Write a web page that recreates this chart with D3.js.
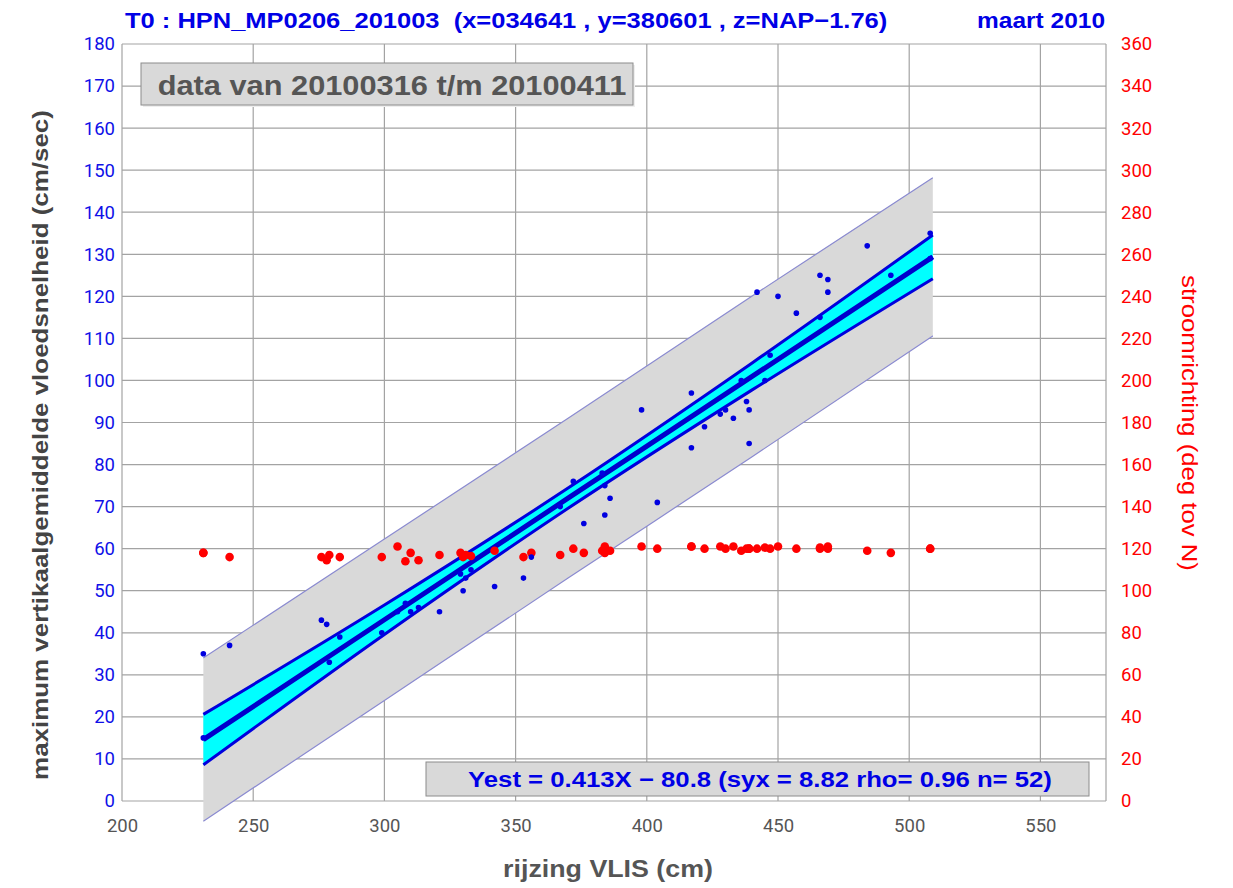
<!DOCTYPE html>
<html><head><meta charset="utf-8">
<script src="https://cdn.jsdelivr.net/npm/d3@7"></script>
<style>body{margin:0;background:#fff}svg{display:block}</style>
</head><body>
<svg id="c" width="1233" height="888"></svg>
<script>
// ---- data ----
const rise = [231,231,241,276,278,279,283,299,305,308,310,313,321,329,330,331,333,342,353,356,367,372,376,383,384,384,386,398,404,417,417,422,428,430,433,436,438,439,439,442,445,447,450,457,466,466,469,469,484,493,508,508];
const speed = [35,15,37,43,42,33,39,40,45,47,45,46,45,54,50,53,55,51,53,58,70,76,66,78,75,68,72,93,71,97,84,89,92,93,91,100,95,93,85,121,100,106,120,116,115,125,124,121,132,125,135,129];
const direction = [118,118,116,116,114.5,117,116,116,121,114,118,114.5,117,118,116,117,116.5,119,116,118,117,120,118,119,121,118,119,121,120,121,121,120,121,120,121,119,120,120,120,120,120.5,120,121,120,120,120.5,121,120,119,118,120,120];
const bandX = [231,300,370,440,509];
const fitLine = [14.6,43.1,72.0,100.9,129.4];
const confUpper = [20.6,46.6,74.4,104.1,134.6];
const confLower = [8.6,39.6,69.6,97.7,124.2];
const predUpper = [34.0,62.3,91.0,120.0,148.2];
const predLower = [-4.8,23.9,53.0,81.8,110.6];
const xTicks = [200,250,300,350,400,450,500,550];
const yTicks = d3.range(0,181,10);
const y2Ticks = d3.range(0,361,20);
const titleText = "T0 : HPN_MP0206_201003  (x=034641 , y=380601 , z=NAP\u22121.76)";
const monthText = "maart 2010";
const periodText = "data van 20100316 t/m 20100411";
const eqText = "Yest = 0.413X \u2212 80.8 (syx = 8.82 rho= 0.96 n= 52)";
const xLabel = "rijzing VLIS (cm)";
const yLabel = "maximum vertikaalgemiddelde vloedsnelheid (cm/sec)";
const y2Label = "stroomrichting (deg tov N)";

// ---- layout ----
const L=122, R=1106, T=44, B=801;
const svg = d3.select("#c");
const x = d3.scaleLinear().domain([200,575]).range([L,R]);
const y = d3.scaleLinear().domain([0,180]).range([B,T]);
const y2 = d3.scaleLinear().domain([0,360]).range([B,T]);
const grid = "#a3a3a3";
const FONT = "'Liberation Sans', Arial, sans-serif";

// condensed text: font size sets height, horizontal scale sets width
function ctext(str, px, py, w, fs, opts){
  opts = opts||{};
  const g = svg.append("g");
  const t = g.append("text").attr("font-family",FONT).attr("font-size",fs)
    .attr("font-weight",opts.weight||"bold").attr("fill",opts.fill||"#000")
    .attr("text-anchor",opts.anchor||"start").attr("xml:space","preserve").text(str);
  const sx = w / t.node().getComputedTextLength();
  g.attr("transform",`translate(${px},${py}) rotate(${opts.rot||0}) scale(${sx},1)`);
  return t;
}

// gridlines
const g = svg.append("g");
g.selectAll(".vg").data(xTicks).join("line")
  .attr("x1",d=>x(d)).attr("x2",d=>x(d)).attr("y1",T).attr("y2",B)
  .attr("stroke",grid).attr("stroke-width",1.2);
g.selectAll(".hg").data(yTicks).join("line")
  .attr("x1",L).attr("x2",R).attr("y1",d=>y(d)).attr("y2",d=>y(d))
  .attr("stroke",grid).attr("stroke-width",1.2);
g.append("line").attr("x1",R).attr("x2",R).attr("y1",T).attr("y2",B).attr("stroke",grid).attr("stroke-width",1.2);

// axes labels via d3 axes
const axL = svg.append("g").attr("transform",`translate(${L},0)`)
  .call(d3.axisLeft(y).tickValues(yTicks).tickSize(0).tickPadding(7));
axL.select(".domain").remove();
axL.selectAll("text").attr("fill","#1010e8").attr("font-family","Roboto, 'Liberation Sans', sans-serif").attr("font-size",18.5);
const axR = svg.append("g").attr("transform",`translate(${R},0)`)
  .call(d3.axisRight(y2).tickValues(y2Ticks).tickSize(0).tickPadding(15));
axR.select(".domain").remove();
axR.selectAll("text").attr("fill","#ff0000").attr("font-family","Roboto, 'Liberation Sans', sans-serif").attr("font-size",18.5);
const axB = svg.append("g").attr("transform",`translate(0,${B})`)
  .call(d3.axisBottom(x).tickValues(xTicks).tickSize(0).tickPadding(18));
axB.select(".domain").remove();
axB.selectAll("text").attr("fill","#555").attr("font-family","Roboto, 'Liberation Sans', sans-serif").attr("font-size",18.5);

// bands
const bd = bandX.map((v,i)=>({x:v,f:fitLine[i],cu:confUpper[i],cl:confLower[i],pu:predUpper[i],pl:predLower[i]}));
const curve = d3.curveMonotoneX;
svg.append("path").datum(bd)
  .attr("d", d3.area().x(d=>x(d.x)).y0(d=>y(d.pl)).y1(d=>y(d.pu)).curve(curve))
  .attr("fill","#d9d9d9");
["pu","pl"].forEach(k=>svg.append("path").datum(bd)
  .attr("d", d3.line().x(d=>x(d.x)).y(d=>y(d[k])).curve(curve))
  .attr("fill","none").attr("stroke","#8a8ad0").attr("stroke-width",1.2));
svg.append("path").datum(bd)
  .attr("d", d3.area().x(d=>x(d.x)).y0(d=>y(d.cl)).y1(d=>y(d.cu)).curve(curve))
  .attr("fill","#00ffff");
["cu","cl"].forEach(k=>svg.append("path").datum(bd)
  .attr("d", d3.line().x(d=>x(d.x)).y(d=>y(d[k])).curve(curve))
  .attr("fill","none").attr("stroke","#0000dd").attr("stroke-width",3));
svg.append("path").datum(bd)
  .attr("d", d3.line().x(d=>x(d.x)).y(d=>y(d.f)).curve(curve))
  .attr("fill","none").attr("stroke","#0000cc").attr("stroke-width",5);

// points
const pts = rise.map((r,i)=>({r,s:speed[i],d:direction[i]}));
svg.append("g").selectAll("circle").data(pts).join("circle")
  .attr("cx",d=>x(d.r)).attr("cy",d=>y2(d.d)).attr("r",4.3).attr("fill","#ff0000");
svg.append("g").selectAll("circle").data(pts).join("circle")
  .attr("cx",d=>x(d.r)).attr("cy",d=>y(d.s)).attr("r",2.8).attr("fill","#0000e0");

// title
ctext(titleText, 125, 28, 763, 22, {fill:"#0000e6"});
ctext(monthText, 1105, 28, 128, 22, {fill:"#0000e6", anchor:"end"});

// period box
svg.append("rect").attr("x",143).attr("y",65).attr("width",492).attr("height",42).attr("fill","#eeeeee");
svg.append("rect").attr("x",141).attr("y",63).attr("width",492).attr("height",42).attr("fill","#d9d9d9").attr("stroke","#8c8c8c").attr("stroke-width",1);
ctext(periodText, 392, 95, 469, 28, {fill:"#555", anchor:"middle"});

// equation box
svg.append("rect").attr("x",426).attr("y",762).attr("width",663).attr("height",34).attr("fill","#d9d9d9").attr("stroke","#8c8c8c").attr("stroke-width",1);
ctext(eqText, 760, 787, 584, 22.5, {fill:"#0000e6", anchor:"middle"});

// axis titles
ctext(xLabel, 608, 877, 210, 23.5, {fill:"#555", anchor:"middle"});
ctext(yLabel, 48, 445, 670, 22.5, {fill:"#444", anchor:"middle", rot:-90});
ctext(y2Label, 1182, 423, 296, 22.5, {fill:"#ff0000", anchor:"middle", rot:90, weight:"normal"});
</script>
</body></html>
